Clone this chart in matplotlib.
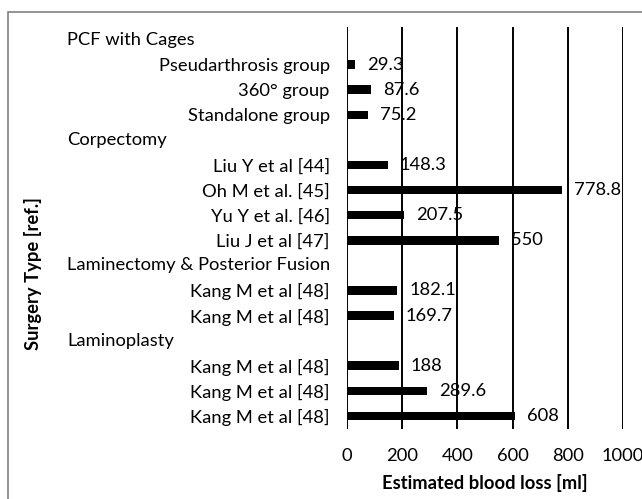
import numpy as np
import matplotlib
matplotlib.use("Agg")
import matplotlib.pyplot as plt
import matplotlib.transforms as mtransforms
from matplotlib.patches import Rectangle

# rows top to bottom; None marks a group header (no bar)
etiquetas = ["PCF with Cages", "Pseudarthrosis group", "360° group", "Standalone group",
             "Corpectomy", "Liu Y et al [44]", "Oh M et al. [45]", "Yu Y et al. [46]", "Liu J et al [47]",
             "Laminectomy & Posterior Fusion", "Kang M et al [48]", "Kang M et al [48]",
             "Laminoplasty", "Kang M et al [48]", "Kang M et al [48]", "Kang M et al [48]"]
valores = [None, 29.3, 87.6, 75.2,
           None, 148.3, 778.8, 207.5, 550,
           None, 182.1, 169.7,
           None, 188, 289.6, 608]
textos = ["", "29.3", "87.6", "75.2", "", "148.3", "778.8", "207.5", "550",
          "", "182.1", "169.7", "", "188", "289.6", "608"]
xticks = [0, 200, 400, 600, 800, 1000]

plt.rcParams['font.family'] = ['Lato', 'DejaVu Sans']
fs = 13.2

fig = plt.figure(figsize=(6.42, 4.99), dpi=100)
W, H = 642, 499
ax = fig.add_axes([347 / W, 70.5 / H, 276 / W, 401.5 / H])

filas = np.arange(len(etiquetas))
es_barra = [v is not None for v in valores]
pos = filas[es_barra]
vals = [v for v in valores if v is not None]

ax.barh(pos, vals, height=0.34, color="black", zorder=3)
for p, v, t in zip(pos, vals, [t for t, b in zip(textos, es_barra) if b]):
    ax.annotate(t, (v, p), xytext=(8.5, 0), textcoords="offset points",
                ha="left", va="center", fontsize=fs, color="black", zorder=4)

ax.set_xlim(0, 1000)
ax.set_ylim(len(etiquetas) - 0.5, -0.5)
ax.set_xticks(xticks)
ax.set_xticklabels([str(x) for x in xticks], fontsize=fs)
ax.set_yticks(pos)
ax.set_yticklabels([e for e, b in zip(etiquetas, es_barra) if b], fontsize=fs)
ax.tick_params(axis="both", length=0, colors="black")
ax.tick_params(axis="y", pad=12.5)
ax.tick_params(axis="x", pad=14)
for s in ax.spines.values():
    s.set_visible(False)
ax.xaxis.grid(True, color="black", linewidth=1.4, zorder=1)
ax.set_axisbelow(True)

# group headers, left aligned
trans = mtransforms.blended_transform_factory(fig.transFigure, ax.transData)
for f, e, b in zip(filas, etiquetas, es_barra):
    if not b:
        ax.text(67 / W, f, e, transform=trans, ha="left", va="center", fontsize=fs, clip_on=False)

fig.text(485 / W, 1 - 483 / H, "Estimated blood loss [ml]", ha="center", va="center",
         fontsize=fs, fontweight="bold")
fig.text(33 / W, 1 - 274 / H, "Surgery Type [ref.]", ha="center", va="center",
         rotation=90, fontsize=fs, fontweight="bold")

# outer frame
fig.patches.append(Rectangle((8 / W, -0.1), 1.2, 1 - 12 / H + 0.1, transform=fig.transFigure,
                             fill=False, edgecolor="#808080", linewidth=1.2))

fig.savefig("out.png", dpi=100)
